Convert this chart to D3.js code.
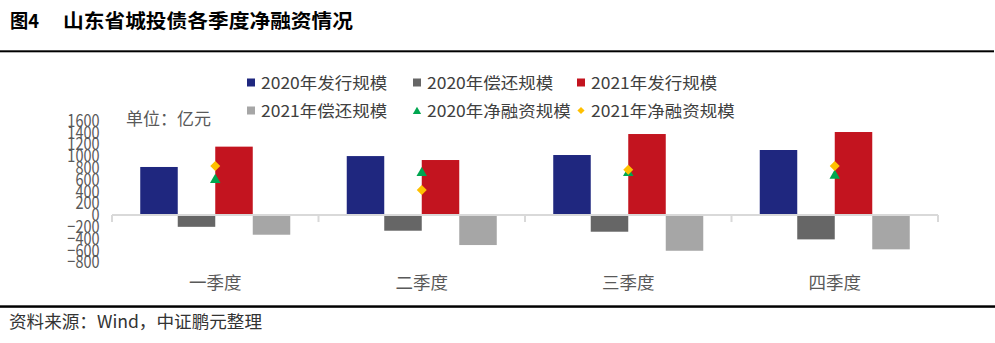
<!DOCTYPE html>
<html><head><meta charset="utf-8">
<script src="https://cdn.jsdelivr.net/npm/d3@7/dist/d3.min.js"></script>
<style>
html,body{margin:0;padding:0;background:#fff;}
svg{display:block;font-family:"Noto Sans CJK SC","Microsoft YaHei",sans-serif;}
</style></head>
<body>
<svg id="c" width="995" height="343"></svg>
<script>
const categories = ["一季度","二季度","三季度","四季度"];
const seriesNames = ["2020年发行规模","2020年偿还规模","2021年发行规模","2021年偿还规模"];
const issue2020 = [815, 1000, 1018, 1103];
const repay2020 = [-200, -266, -283, -413];
const issue2021 = [1160, 933, 1374, 1408];
const repay2021 = [-334, -509, -606, -582];
const net2020 = [612, 730, 730, 685];
const net2021 = [830, 424, 770, 832];
const yTicks = [-800,-600,-400,-200,0,200,400,600,800,1000,1200,1400,1600];
const netNames = ["2020年净融资规模","2021年净融资规模"];

const colors = ["#1F277F","#666666","#C3141F","#A6A6A6"];
const triColor = "#00A650", diaColor = "#FFC000";

const svg = d3.select("#c");

// title
svg.append("text").attr("x",10).attr("y",28).attr("font-size",19).attr("font-weight","bold")
  .attr("fill","#000").attr("textLength",29).attr("lengthAdjust","spacingAndGlyphs").text("图4");
svg.append("text").attr("x",63).attr("y",28).attr("font-size",19).attr("font-weight","bold")
  .attr("fill","#000").attr("textLength",290).attr("lengthAdjust","spacingAndGlyphs").text("山东省城投债各季度净融资情况");
svg.append("rect").attr("x",0).attr("y",50.3).attr("width",994).attr("height",2).attr("fill","#000");
svg.append("rect").attr("x",0).attr("y",305.3).attr("width",995).attr("height",2.5).attr("fill","#000");
svg.append("text").attr("x",9).attr("y",328).attr("font-size",17).attr("fill","#333")
  .attr("textLength",253).attr("lengthAdjust","spacingAndGlyphs").text("资料来源：Wind，中证鹏元整理");

// scales
const y = d3.scaleLinear().domain([-800,1600]).range([262.2,120.7]);
const x0 = d3.scaleBand().domain(categories).range([112,938]).paddingInner(0).paddingOuter(0);
const x1 = d3.scaleBand().domain(seriesNames).range([0,x0.bandwidth()]).paddingInner(0).paddingOuter(0.753);

const data = [issue2020, repay2020, issue2021, repay2021];
const g = svg.append("g");
categories.forEach((c,i)=>{
  seriesNames.forEach((s,j)=>{
    const v = data[j][i];
    g.append("rect")
      .attr("x", x0(c)+x1(s))
      .attr("width", x1.bandwidth())
      .attr("y", Math.min(y(v), y(0)))
      .attr("height", Math.abs(y(v)-y(0)))
      .attr("fill", colors[j]);
  });
});

// category axis line
svg.append("line").attr("x1",x0.range()[0]).attr("x2",x0.range()[1]).attr("y1",y(0)).attr("y2",y(0))
  .attr("stroke","#D9D9D9").attr("stroke-width",2);
const bounds = categories.map(c=>x0(c)).concat([x0.range()[1]]);
bounds.forEach(bx=>{
  svg.append("line").attr("x1",bx).attr("x2",bx).attr("y1",y(0)).attr("y2",y(0)+7)
    .attr("stroke","#D9D9D9").attr("stroke-width",2);
});
categories.forEach(c=>{
  svg.append("text").attr("x",x0(c)+x0.bandwidth()/2).attr("y",289).attr("text-anchor","middle")
    .attr("font-size",17.5).attr("fill","#595959").text(c);
});

// y axis
const yAxis = d3.axisLeft(y).tickValues(yTicks).tickSize(0).tickPadding(0).tickFormat(d3.format("d"));
const ya = svg.append("g").attr("transform","translate(99.5,0)").call(yAxis);
ya.select(".domain").remove();
ya.selectAll("text").attr("font-size",14.5).attr("fill","#595959")
  .attr("font-family","'Noto Sans CJK SC',sans-serif").attr("transform","scale(1,1.22)");

svg.append("text").attr("x",126).attr("y",125).attr("font-size",17).attr("fill","#595959").text("单位：亿元");

// net markers
const tri = d3.symbol().type(d3.symbolTriangle).size(48);
const dia = d3.symbol().type(d3.symbolSquare).size(50);
categories.forEach((c,i)=>{
  const cx = x0(c)+x0.bandwidth()/2;
  svg.append("path").attr("d",tri()).attr("fill",triColor)
    .attr("transform",`translate(${cx},${y(net2020[i])+1})`);
  svg.append("path").attr("d",dia()).attr("fill",diaColor)
    .attr("transform",`translate(${cx},${y(net2021[i])}) rotate(45)`);
});

// legend
const legendItems = [
  {name:seriesNames[0], type:"rect", color:colors[0], x:247, y:82.5},
  {name:seriesNames[1], type:"rect", color:colors[1], x:413, y:82.5},
  {name:seriesNames[2], type:"rect", color:colors[2], x:577, y:82.5},
  {name:seriesNames[3], type:"rect", color:colors[3], x:247, y:110.5},
  {name:netNames[0], type:"tri", color:triColor, x:413, y:110.5},
  {name:netNames[1], type:"dia", color:diaColor, x:577, y:110.5}
];
const lg = svg.append("g");
legendItems.forEach(it=>{
  if(it.type==="rect"){
    lg.append("rect").attr("x",it.x).attr("y",it.y-4).attr("width",8).attr("height",8).attr("fill",it.color);
  } else if(it.type==="tri"){
    lg.append("path").attr("d",d3.symbol().type(d3.symbolTriangle).size(30)()).attr("fill",it.color)
      .attr("transform",`translate(${it.x+4},${it.y+1})`);
  } else {
    lg.append("path").attr("d",d3.symbol().type(d3.symbolSquare).size(26)()).attr("fill",it.color)
      .attr("transform",`translate(${it.x+4},${it.y}) rotate(45)`);
  }
  const t = lg.append("text").attr("x",0).attr("y",0).attr("font-size",17.5).attr("fill","#404040")
    .attr("transform",`translate(${it.x+14},${it.y+6}) scale(1,0.9)`).text(it.name);
});
</script>
</body></html>
